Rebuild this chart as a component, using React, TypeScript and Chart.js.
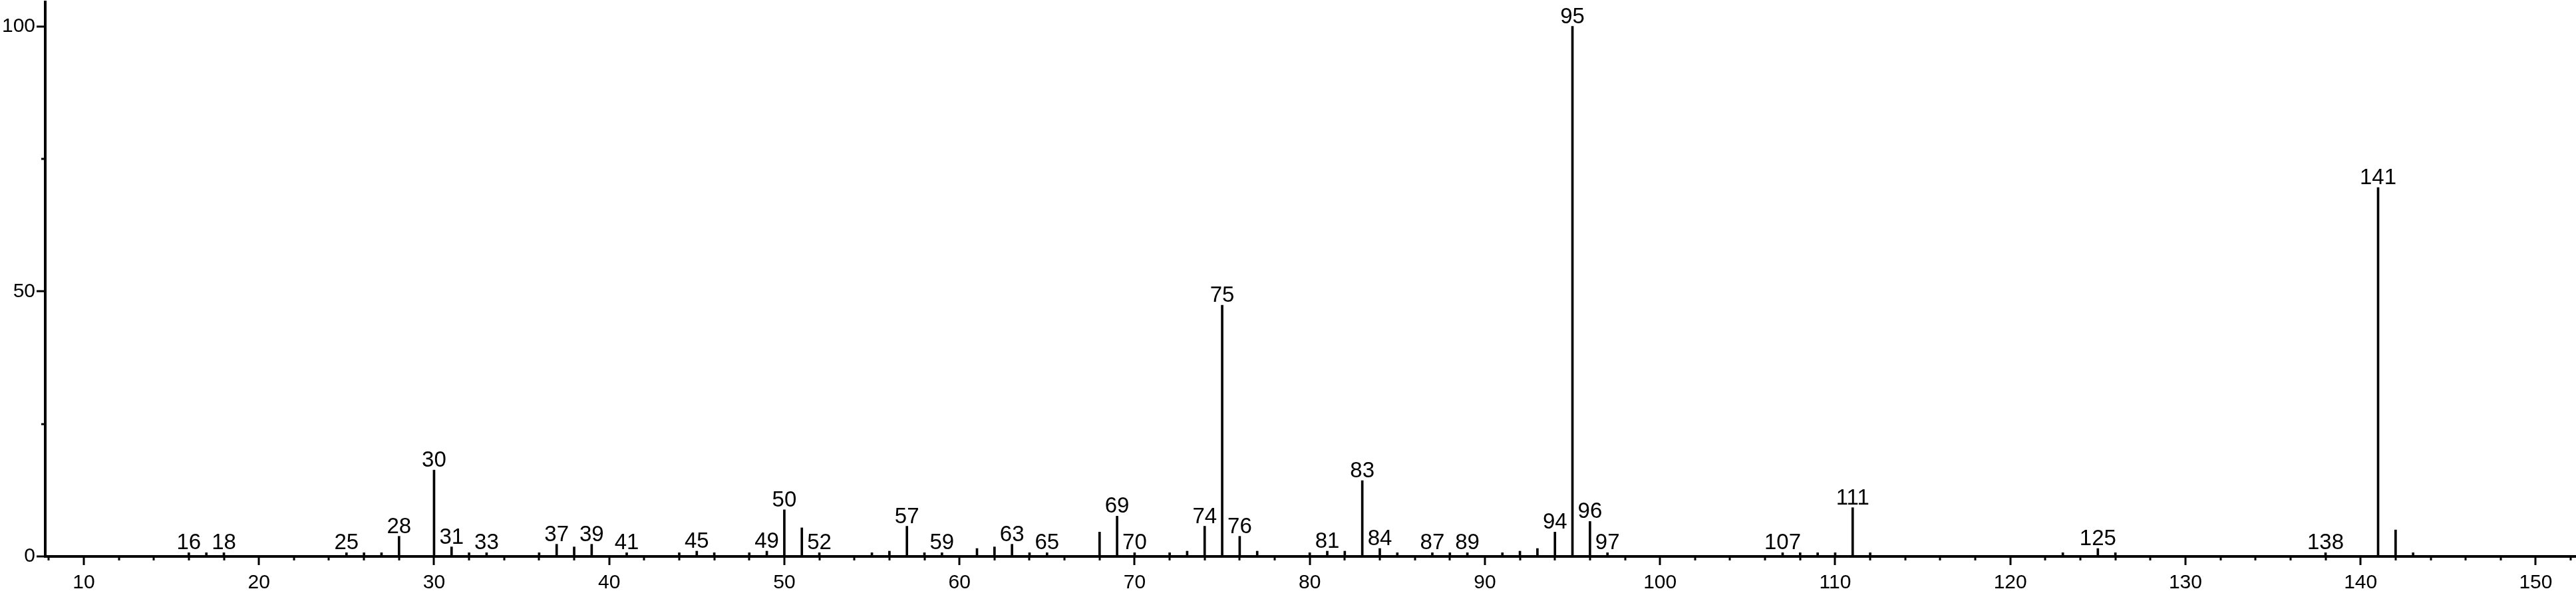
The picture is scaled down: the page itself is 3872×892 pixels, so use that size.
import React, { useEffect, useRef } from "react";
import { Chart, registerables } from "chart.js";

Chart.register(...registerables);

// m/z values of the peaks
const mzValues: number[] = [
  16, 17, 18, 25, 26, 27, 28, 30, 31, 32, 33, 36, 37, 38, 39, 41, 44, 45, 46, 48, 49,
  50, 51, 52, 55, 56, 57, 58, 59, 61, 62, 63, 64, 65, 68, 69, 70, 72, 73, 74, 75, 76,
  77, 80, 81, 82, 83, 84, 85, 87, 88, 89, 91, 92, 93, 94, 95, 96, 97, 107, 108, 109,
  110, 111, 112, 123, 125, 126, 138, 141, 142, 143,
];

// relative intensities (%)
const intensities: number[] = [
  0.7, 0.7, 0.7, 0.7, 0.7, 0.7, 3.8, 16.3, 1.8, 0.7, 0.7, 0.7, 2.3, 1.8, 2.3, 0.7, 0.7, 1.0, 0.7, 0.7, 1.0,
  8.8, 5.4, 0.7, 0.7, 1.0, 5.7, 0.7, 0.7, 1.5, 1.8, 2.3, 0.7, 0.7, 4.6, 7.6, 0.7, 0.7, 1.0, 5.7, 47.4, 3.8,
  1.0, 0.7, 1.0, 1.0, 14.3, 1.5, 0.7, 0.7, 0.7, 0.7, 0.7, 1.0, 1.5, 4.6, 100, 6.6, 0.7, 0.7, 0.7, 0.7,
  0.7, 9.2, 0.7, 0.7, 1.5, 0.7, 0.7, 69.6, 5.0, 0.7,
];

// peaks that carry an m/z label
const labeledPeaks: number[] = [
  16, 18, 25, 28, 30, 31, 33, 37, 39, 41, 45, 49, 50, 52, 57, 59, 63, 65, 69, 70, 74,
  75, 76, 81, 83, 84, 87, 89, 94, 95, 96, 97, 107, 111, 125, 138, 141,
];

const xMajorLabels: number[] = [10, 20, 30, 40, 50, 60, 70, 80, 90, 100, 110, 120, 130, 140, 150];
const yMajorLabels: number[] = [0, 50, 100];

const FONT_FAMILY = '"Liberation Sans", Arial, sans-serif';
const TICK_FONT_SIZE = 30;
const PEAK_FONT_SIZE = 33;

const peakLabelPlugin = {
  id: "peakLabels",
  afterDatasetsDraw(chart: any) {
    const meta = chart.getDatasetMeta(0);
    const ctx = chart.ctx;
    ctx.save();
    ctx.font = `${PEAK_FONT_SIZE}px ${FONT_FAMILY}`;
    ctx.textAlign = "center";
    ctx.textBaseline = "alphabetic";
    ctx.fillStyle = "#000";
    meta.data.forEach((el: any, i: number) => {
      const m = mzValues[i];
      if (labeledPeaks.includes(m)) {
        ctx.fillText(String(m), el.x, el.y - 5);
      }
    });
    ctx.restore();
  },
};

const tickMarkPlugin = {
  id: "tickMarks",
  afterDraw(chart: any) {
    const ctx = chart.ctx;
    const xs = chart.scales.x;
    const ys = chart.scales.y;
    ctx.save();
    ctx.strokeStyle = "#000";
    ctx.lineWidth = 3;
    xs.ticks.forEach((t: any) => {
      const px = Math.round(xs.getPixelForValue(t.value));
      const major = xMajorLabels.includes(t.value);
      ctx.beginPath();
      ctx.moveTo(px, xs.top);
      ctx.lineTo(px, xs.top + (major ? 13 : 6));
      ctx.stroke();
    });
    ys.ticks.forEach((t: any) => {
      const py = Math.round(ys.getPixelForValue(t.value));
      const major = yMajorLabels.includes(t.value);
      ctx.beginPath();
      ctx.moveTo(ys.right, py);
      ctx.lineTo(ys.right - (major ? 13 : 6), py);
      ctx.stroke();
    });
    ctx.restore();
  },
};

export default function App() {
  const canvasRef = useRef<HTMLCanvasElement | null>(null);

  useEffect(() => {
    document.body.style.margin = "0";
    const canvas = canvasRef.current;
    if (!canvas) return;
    const data = mzValues.map((m, i) => ({ x: m, y: intensities[i] }));
    const chart = new Chart(canvas, {
      type: "bar",
      data: {
        datasets: [
          {
            data: data as any,
            backgroundColor: "#000",
            borderWidth: 0,
            barThickness: 3,
          },
        ],
      },
      plugins: [peakLabelPlugin, tickMarkPlugin],
      options: {
        animation: false,
        responsive: false,
        devicePixelRatio: 1,
        layout: { padding: { top: 3, left: 0, right: 0, bottom: 0 } },
        plugins: {
          legend: { display: false },
          tooltip: { enabled: false },
        },
        scales: {
          x: {
            type: "linear",
            offset: false,
            min: 7.8,
            max: 152.3,
            grid: { display: false, drawTicks: false },
            border: { display: true, color: "#000", width: 4 },
            ticks: {
              stepSize: 2,
              includeBounds: false,
              autoSkip: false,
              maxRotation: 0,
              padding: 22,
              color: "#000",
              font: { family: FONT_FAMILY, size: TICK_FONT_SIZE },
              callback: (v: any) => (xMajorLabels.includes(v) ? String(v) : ""),
            },
            afterFit: (s: any) => {
              s.height = 55;
              s.paddingLeft = 0;
              s.paddingRight = 0;
            },
          },
          y: {
            type: "linear",
            min: 0,
            max: 104.59,
            grid: { display: false, drawTicks: false },
            border: { display: true, color: "#000", width: 4 },
            ticks: {
              stepSize: 25,
              includeBounds: false,
              autoSkip: false,
              padding: 15,
              color: "#000",
              font: { family: FONT_FAMILY, size: TICK_FONT_SIZE },
              callback: (v: any) => (yMajorLabels.includes(v) ? String(v) : ""),
            },
            afterFit: (s: any) => {
              s.width = 68;
              s.paddingTop = 0;
              s.paddingBottom = 0;
            },
          },
        },
      } as any,
    });
    return () => chart.destroy();
  }, []);

  return (
    <canvas
      ref={canvasRef}
      width={3872}
      height={892}
      style={{ display: "block", width: "3872px", height: "892px" }}
    />
  );
}
